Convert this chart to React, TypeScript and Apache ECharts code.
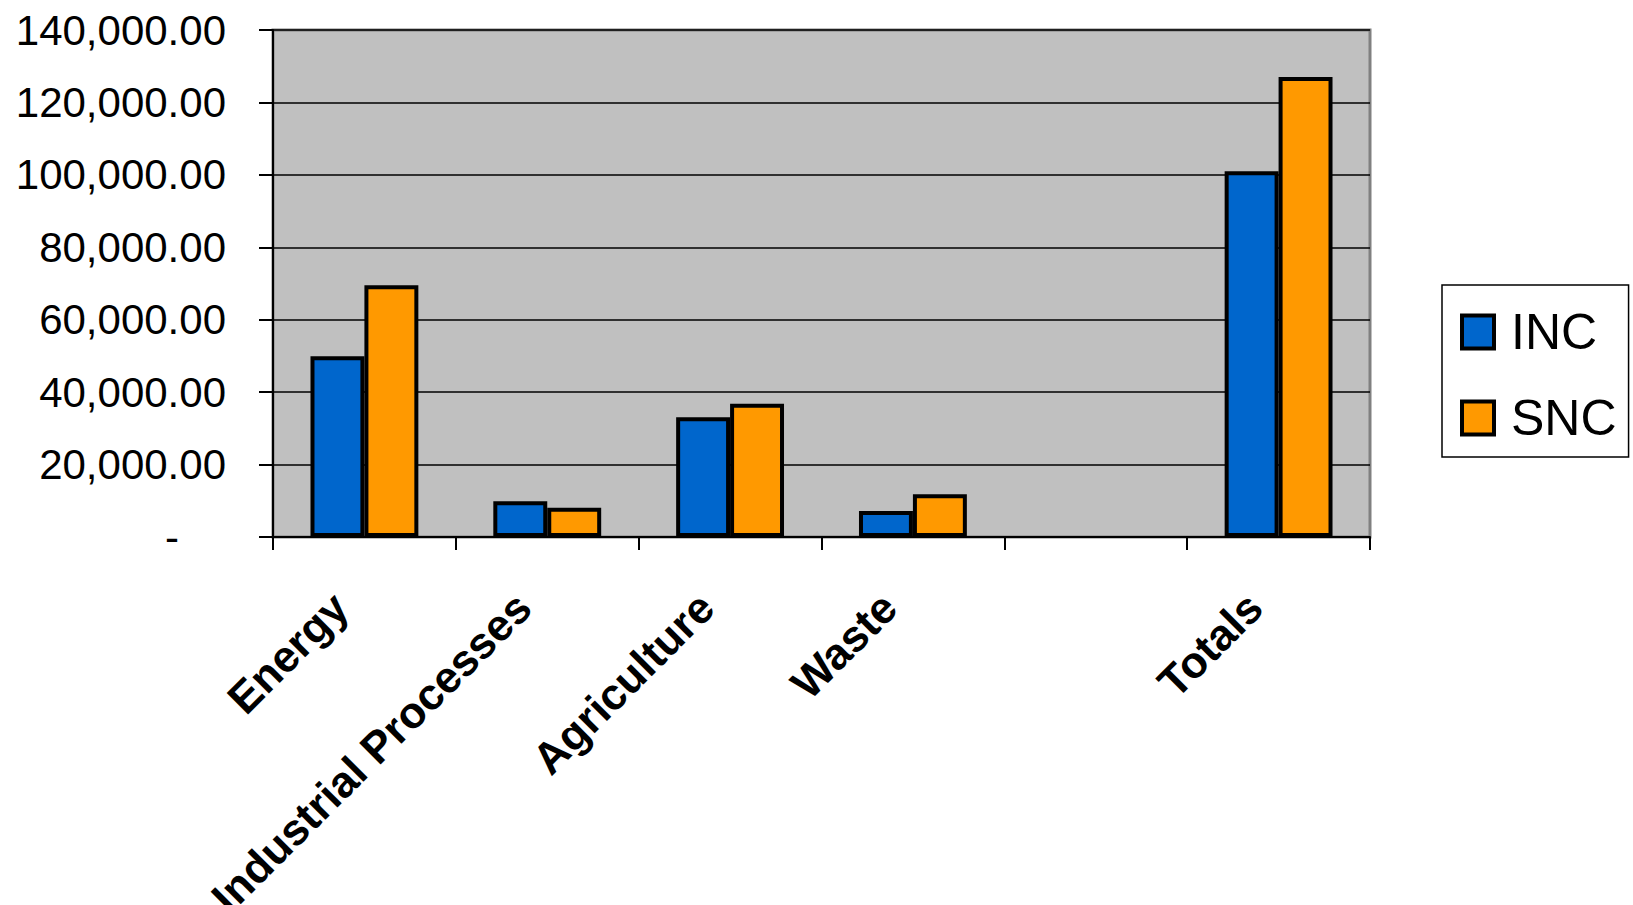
import React, { useEffect, useRef } from "react";
import * as echarts from "echarts";

const categories = ["Energy", "Industrial Processes", "Agriculture", "Waste", "", "Totals"];
const incValues = [49900, 9900, 33100, 7200, null, 101000];
const sncValues = [69500, 8100, 36800, 11800, null, 127000];
const seriesNames = ["INC", "SNC"];
const yMin = 0;
const yMax = 140000;
const yInterval = 20000;

const FONT = "'Liberation Sans', Arial, Helvetica, sans-serif";

export default function App() {
  const ref = useRef<HTMLDivElement>(null);
  useEffect(() => {
    if (!ref.current) return;
    const chart = echarts.init(ref.current, null, { renderer: "svg" });
    chart.setOption({
      animation: false,
      backgroundColor: "#ffffff",
      textStyle: { fontFamily: FONT },
      grid: {
        left: 273,
        top: 30,
        width: 1097,
        height: 507,
        containLabel: false,
        outerBoundsMode: "none",
        show: true,
        backgroundColor: "#c0c0c0",
        borderColor: "#808080",
        borderWidth: 3,
      },
      legend: {
        orient: "vertical",
        left: 1442,
        top: 285,
        padding: [22, 12, 14, 18],
        icon: "rect",
        itemWidth: 32,
        itemHeight: 33,
        itemGap: 36,
        borderColor: "#000",
        borderWidth: 1.5,
        backgroundColor: "#fff",
        borderRadius: 0,
        itemStyle: { borderColor: "#000", borderWidth: 4 },
        textStyle: {
          fontFamily: FONT,
          fontSize: 50,
          color: "#000",
          padding: [0, 0, 0, 12],
        },
        data: seriesNames,
      },
      xAxis: {
        type: "category",
        data: categories,
        axisLine: { show: true, lineStyle: { color: "#000", width: 2 } },
        axisTick: { show: true, length: 13, lineStyle: { color: "#000", width: 2 }, alignWithLabel: false },
        axisLabel: {
          interval: 0,
          rotate: 45,
          margin: 39,
          hideOverlap: false,
          formatter: (v: string) => (v ? `{a|${v}}` : ""),
          rich: {
            a: {
              fontFamily: FONT,
              fontWeight: "bold",
              fontSize: 44,
              color: "#000",
              padding: [0, 34, 0, 0],
            },
          },
        },
        splitLine: { show: false },
      },
      yAxis: {
        type: "value",
        min: yMin,
        max: yMax,
        interval: yInterval,
        axisLine: { show: true, lineStyle: { color: "#000", width: 2 } },
        axisTick: { show: true, length: 14, lineStyle: { color: "#000", width: 2 } },
        splitLine: { show: true, lineStyle: { color: "#000", width: 1.5 } },
        axisLabel: {
          margin: 47,
          fontFamily: FONT,
          fontSize: 42,
          color: "#000",
          formatter: (v: number) =>
            v === 0
              ? "{z|-}"
              : v.toLocaleString("en-US", { minimumFractionDigits: 2, maximumFractionDigits: 2 }),
          rich: {
            z: { fontFamily: FONT, fontSize: 42, color: "#000", padding: [0, 47, 0, 0] },
          },
        },
      },
      series: [
        {
          name: seriesNames[0],
          type: "bar",
          data: incValues,
          barGap: "0%",
          barCategoryGap: "41%",
          itemStyle: { color: "#0066cc", borderColor: "#000", borderWidth: 4 },
        },
        {
          name: seriesNames[1],
          type: "bar",
          data: sncValues,
          barGap: "0%",
          barCategoryGap: "41%",
          itemStyle: { color: "#ff9900", borderColor: "#000", borderWidth: 4 },
        },
      ],
    });
    return () => chart.dispose();
  }, []);
  return (
    <div
      ref={ref}
      style={{ position: "fixed", left: 0, top: 0, width: 1633, height: 905 }}
    />
  );
}
